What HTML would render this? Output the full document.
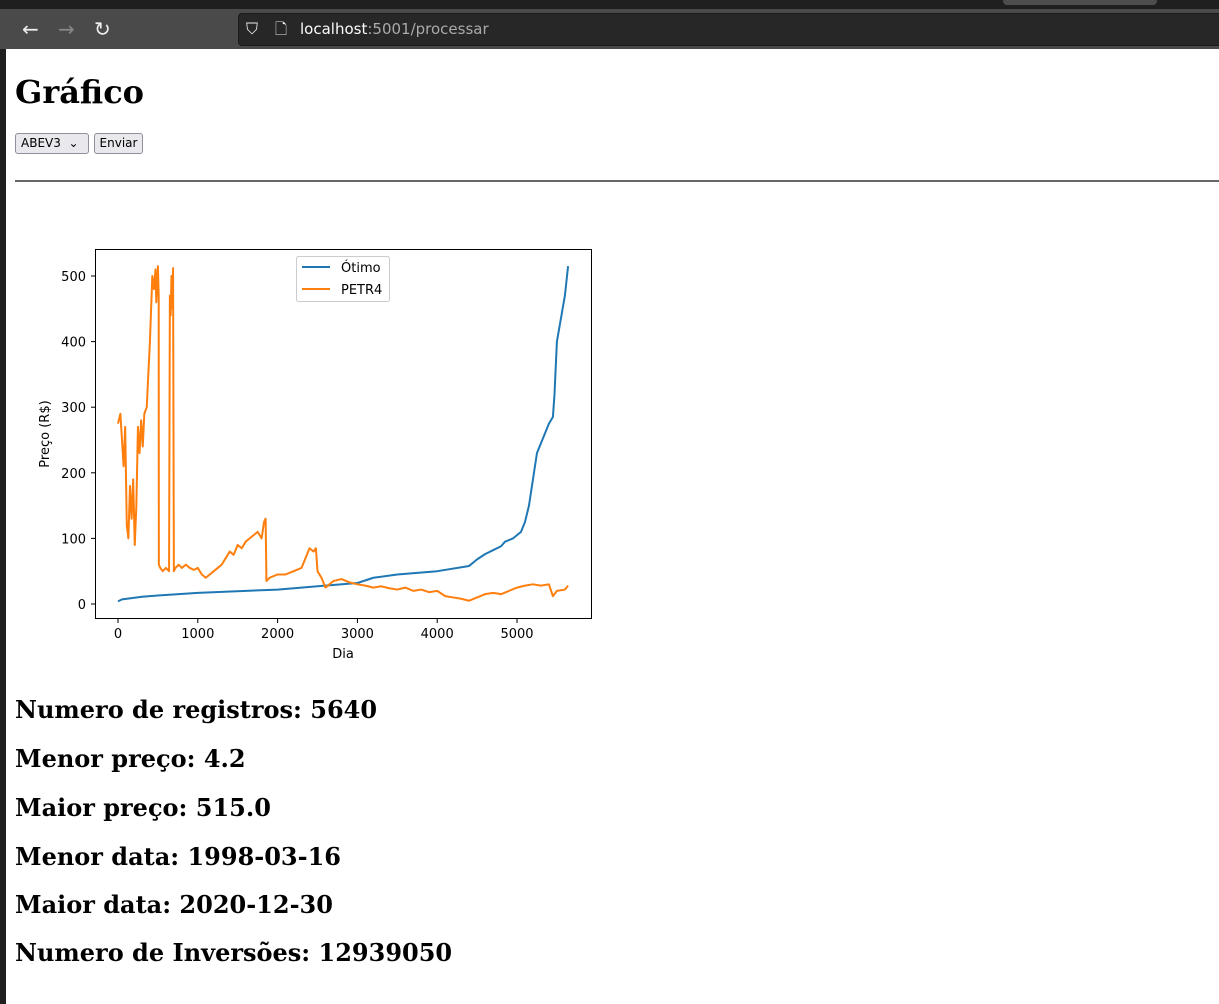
<!DOCTYPE html>
<html><head><meta charset="utf-8">
<style>
body{margin:0;width:1219px;height:1004px;overflow:hidden;background:#fff;font-family:"DejaVu Serif","Liberation Serif",serif;position:relative}
#top{position:absolute;left:0;top:0;width:1219px;height:9px;background:#1f1f1f}
#tab{position:absolute;left:1003px;top:0;width:154px;height:5px;background:#4d4d4d;border-radius:0 0 4px 4px}
#bar{position:absolute;left:0;top:9px;width:1219px;height:40px;background:#4a4a4a}
#url{position:absolute;left:238px;top:13px;width:990px;height:31px;background:#272727;border-radius:4px;border:1px solid #1b1b1b}
#urltext{position:absolute;left:300px;top:20px;font:15px "DejaVu Sans",sans-serif;color:#fbfbfb}
#urltext span{color:#aaa}
#edge{position:absolute;left:0;top:49px;width:6px;height:955px;background:#1f1f1f}
.nav{position:absolute;top:17px;color:#eee;font:20px "DejaVu Sans",sans-serif}
h1{position:absolute;left:15px;top:73px;margin:0;font-size:32px;font-weight:bold}
#sel{position:absolute;left:15px;top:133px;width:74px;height:21px;border:1px solid #8f8f9d;border-radius:3px;background:#e9e9ed;font:12px "DejaVu Sans",sans-serif;line-height:19px;padding-left:5px;box-sizing:border-box}
#btn{position:absolute;left:94px;top:133px;width:49px;height:21px;border:1px solid #8f8f9d;border-radius:3px;background:#e9e9ed;font:12px "DejaVu Sans",sans-serif;line-height:19px;text-align:center;box-sizing:border-box}
#hr{position:absolute;left:15px;top:180px;width:1204px;height:2px;background:#666}
.st{position:absolute;left:15px;margin:0;font-size:24px;font-weight:bold}
svg{position:absolute;left:0;top:0}
</style></head><body>
<div id="top"></div>
<div id="tab"></div>
<div id="bar"></div>
<div class="nav" style="left:22px">←</div>
<div class="nav" style="left:58px;color:#888">→</div>
<div class="nav" style="left:94px">↻</div>
<div id="url"></div>
<div class="nav" style="left:246px;top:19px;font-size:16px">⛉</div>
<div class="nav" style="left:275px;top:19px;font-size:15px">🗋</div>
<div id="urltext">localhost<span>:5001/processar</span></div>
<div id="edge"></div>
<h1>Gráfico</h1>
<div id="sel">ABEV3 &nbsp;⌄</div>
<div id="btn">Enviar</div>
<div id="hr"></div>
<svg id="chart" width="1219" height="1004"></svg>
<p class="st" style="top:695px">Numero de registros: 5640</p>
<p class="st" style="top:744px">Menor preço: 4.2</p>
<p class="st" style="top:793px">Maior preço: 515.0</p>
<p class="st" style="top:842px">Menor data: 1998-03-16</p>
<p class="st" style="top:890px">Maior data: 2020-12-30</p>
<p class="st" style="top:938px">Numero de Inversões: 12939050</p>
<script>
const xTicks=[0,1000,2000,3000,4000,5000];
const yTicks=[0,100,200,300,400,500];
const petrDays=[0,30,50,70,90,110,130,150,170,190,210,230,250,270,290,310,330,360,400,430,450,470,480,500,510,512,530,560,600,640,650,660,670,680,690,700,720,760,800,850,900,950,1000,1050,1100,1150,1200,1250,1300,1350,1400,1450,1500,1550,1600,1650,1700,1750,1800,1830,1850,1860,1900,2000,2100,2200,2300,2400,2450,2480,2500,2550,2600,2650,2700,2800,2900,3000,3100,3200,3300,3400,3500,3600,3700,3800,3900,4000,4100,4200,4300,4400,4500,4600,4700,4800,4900,5000,5100,5200,5300,5400,5450,5500,5600,5640];
const petrVals=[275,290,250,210,270,120,100,180,130,190,90,150,270,230,280,240,290,300,400,500,480,510,460,515,470,60,55,50,55,50,470,440,500,450,512,50,55,60,55,60,55,52,55,45,40,45,50,55,60,70,80,75,90,85,95,100,105,110,100,125,130,35,40,45,45,50,55,85,80,85,50,40,25,30,35,38,33,30,28,25,27,24,22,25,20,22,18,20,12,10,8,5,10,15,17,15,20,25,28,30,28,30,12,20,22,28];
const otDays=[0,50,300,500,1000,2000,2500,3000,3200,3500,4000,4400,4500,4600,4700,4800,4850,4950,5050,5100,5150,5200,5250,5300,5350,5400,5450,5470,5500,5550,5600,5640];
const otVals=[4,7,11,13,17,22,27,32,40,45,50,58,68,76,82,88,95,100,110,125,150,190,230,245,260,275,285,320,400,435,470,515];
const NS='http://www.w3.org/2000/svg',svg=document.getElementById('chart');
const X=d=>118+d*(517-118)/5000, Y=v=>604-v*(604-276)/500;
function mk(t,a,p){const e=document.createElementNS(NS,t);for(const k in a)e.setAttribute(k,a[k]);(p||svg).appendChild(e);return e;}
const box=mk('rect',{x:95.5,y:249.5,width:496,height:369,fill:'#fff',stroke:'#000','stroke-width':1});


const F='font-family:"DejaVu Sans",sans-serif;font-size:13px';
xTicks.forEach(t=>{const l=mk('line',{x1:X(t),x2:X(t),y1:619,y2:623,stroke:'#000'});
const tx=mk('text',{x:X(t),y:638,'text-anchor':'middle',style:F});tx.textContent=t;});
yTicks.forEach(t=>{const l=mk('line',{x1:91,x2:95,y1:Y(t),y2:Y(t),stroke:'#000'});
const tx=mk('text',{x:86,y:Y(t)+5,'text-anchor':'end',style:F});tx.textContent=t;});
const xl=mk('text',{x:343,y:658,'text-anchor':'middle',style:F});xl.textContent='Dia';


const yl=mk('text',{x:49,y:434,'text-anchor':'middle',style:F,transform:'rotate(-90 49 434)'});yl.textContent='Preço (R$)';


function line(ds,vs,c,n){const p=mk('polyline',{points:ds.map((d,i)=>X(d)+','+Y(vs[i])).join(' '),fill:'none',stroke:c,'stroke-width':2,'stroke-linejoin':'round'});}
line(otDays,otVals,'#1f77b4','otimo-line');
line(petrDays,petrVals,'#ff7f0e','petr4-line');
const lg=mk('rect',{x:296.5,y:256.5,width:93,height:45,rx:2,fill:'#fff',stroke:'#ccc','fill-opacity':0.8});


[['Ótimo','#1f77b4',267],['PETR4','#ff7f0e',289]].forEach(([n,c,y])=>{
const l=mk('line',{x1:302,x2:330,y1:y,y2:y,stroke:c,'stroke-width':2});
const t=mk('text',{x:341,y:y+5,style:F});t.textContent=n;});
</script>
</body></html>
